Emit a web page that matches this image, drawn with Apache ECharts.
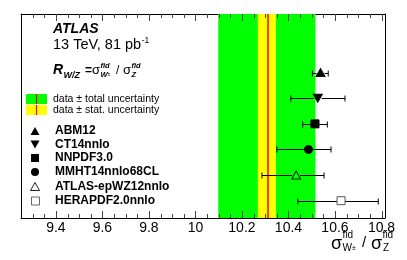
<!DOCTYPE html>
<html>
<head>
<meta charset="utf-8">
<script src="https://cdn.jsdelivr.net/npm/echarts@6/dist/echarts.min.js"></script>
<style>
html,body{margin:0;padding:0;background:#fff;}
#c{width:407px;height:260px;}
</style>
</head>
<body>
<div id="c"></div>
<script>
// ---- data ----
const pdfNames   = ['ABM12', 'CT14nnlo', 'NNPDF3.0', 'MMHT14nnlo68CL', 'ATLAS-epWZ12nnlo', 'HERAPDF2.0nnlo'];
const pdfCentral = [10.538, 10.526, 10.514, 10.486, 10.433, 10.626];
const pdfLow     = [10.503, 10.410, 10.461, 10.350, 10.286, 10.440];
const pdfHigh    = [10.571, 10.643, 10.567, 10.583, 10.553, 10.786];
const pdfRow     = [5, 4, 3, 2, 1, 0];
const dataValue  = 10.307;
const statUnc    = 0.039;
const totalUnc   = 0.209;
const tickLabels = [9.4, 9.6, 9.8, 10, 10.2, 10.4, 10.6, 10.8];
const minorTicks = [9.3, 9.35, 9.45, 9.5, 9.55, 9.65, 9.7, 9.75, 9.85, 9.9, 9.95, 10.05, 10.1, 10.15, 10.25, 10.3, 10.35, 10.45, 10.5, 10.55, 10.65, 10.7, 10.75];

const XMIN = 9.25, XMAX = 10.815;
const FONT = '"Liberation Sans", Arial, Helvetica, sans-serif';

const markerStyles = [
  {symbol: 'triangle', rotate: 0, fill: '#000', stroke: '#000', size: [9, 8]},
  {symbol: 'triangle', rotate: 180, fill: '#000', stroke: '#000', size: [9, 8]},
  {symbol: 'rect', rotate: 0, fill: '#000', stroke: '#000', size: [8, 8]},
  {symbol: 'circle', rotate: 0, fill: '#000', stroke: '#000', size: [8, 8]},
  {symbol: 'triangle', rotate: 0, fill: 'transparent', stroke: '#222', size: [9, 8]},
  {symbol: 'rect', rotate: 0, fill: '#fff', stroke: '#555', size: [8, 8]}
];

const chart = echarts.init(document.getElementById('c'), null, {renderer: 'canvas'});

const mctx = document.createElement('canvas').getContext('2d');
function tw(text, font) { mctx.font = font; return mctx.measureText(text).width; }

const series = [];
series.push({
  type: 'scatter', data: [], z: 1, silent: true,
  markArea: {silent: true, itemStyle: {color: '#00ff00', opacity: 1},
    data: [[{xAxis: dataValue - totalUnc}, {xAxis: dataValue + totalUnc}]]}
});
series.push({
  type: 'scatter', data: [], z: 2, silent: true,
  markArea: {silent: true, itemStyle: {color: '#ffff00', opacity: 1},
    data: [[{xAxis: dataValue - statUnc}, {xAxis: dataValue + statUnc}]]}
});
series.push({
  type: 'scatter', data: [], z: 3, silent: true,
  markLine: {silent: true, symbol: 'none', label: {show: false},
    lineStyle: {color: '#ff0000', width: 1.5, type: 'solid'},
    data: [{xAxis: dataValue}]}
});
// axis ticks (top and bottom, inward) drawn above the bands
const tickData = tickLabels.map(v => [v, 7]).concat(minorTicks.map(v => [v, 4]));
series.push({
  type: 'custom', z: 4, silent: true, clip: false,
  data: tickData,
  encode: {x: 0},
  renderItem: function (params, api) {
    const cs = params.coordSys;
    const x = Math.round(api.coord([api.value(0), 0])[0]) + 0.5;
    const len = api.value(1);
    const st = {stroke: '#444', lineWidth: 1};
    return {type: 'group', children: [
      {type: 'line', shape: {x1: x, y1: cs.y + cs.height, x2: x, y2: cs.y + cs.height - len}, style: st},
      {type: 'line', shape: {x1: x, y1: cs.y, x2: x, y2: cs.y + len}, style: st}
    ]};
  }
});
// error bars
series.push({
  type: 'custom', z: 5, silent: true,
  data: pdfNames.map((n, i) => [pdfLow[i], pdfHigh[i], pdfRow[i], pdfCentral[i]]),
  encode: {x: [0, 1], y: 2},
  renderItem: function (params, api) {
    const lo = api.coord([api.value(0), api.value(2)]);
    const hi = api.coord([api.value(1), api.value(2)]);
    const c = api.coord([api.value(3), api.value(2)]);
    const r = 4;
    const st = {stroke: '#000', lineWidth: 1};
    const y = Math.round(lo[1]) + 0.5;
    return {type: 'group', children: [
      {type: 'line', shape: {x1: lo[0], y1: y, x2: c[0] - r, y2: y}, style: st},
      {type: 'line', shape: {x1: c[0] + r, y1: y, x2: hi[0], y2: y}, style: st},
      {type: 'line', shape: {x1: lo[0], y1: y - 3, x2: lo[0], y2: y + 3}, style: st},
      {type: 'line', shape: {x1: hi[0], y1: y - 3, x2: hi[0], y2: y + 3}, style: st}
    ]};
  }
});
pdfNames.forEach((n, i) => {
  const m = markerStyles[i];
  series.push({
    type: 'scatter', name: n, z: 6, silent: true,
    symbol: m.symbol, symbolRotate: m.rotate, symbolSize: m.size,
    itemStyle: {color: m.fill, borderColor: m.stroke, borderWidth: 1, opacity: 1},
    data: [[pdfCentral[i], pdfRow[i]]]
  });
});

const g = [];
function txt(text, x, y, font, align) {
  g.push({type: 'text', silent: true, z: 100, style: {text: text, x: x, y: y, font: font, fill: '#000', align: align || 'left', verticalAlign: 'middle'}});
  return x + tw(text, font);
}
txt('ATLAS', 53, 29.5, 'italic bold 14px ' + FONT);
{
  const e = txt('13 TeV, 81 pb', 53, 45, '14.5px ' + FONT);
  txt('-1', e + 0.5, 40.5, '8.5px ' + FONT);
}
// R_W/Z formula
{
  const e = txt('R', 53, 70, 'italic bold 14px ' + FONT);
  txt('W/Z', e + 0.5, 75.5, 'italic bold 9px ' + FONT);
  txt('=', 85, 70.5, 'bold 12px ' + FONT);
  const s1 = txt('σ', 92, 70.5, '13px ' + FONT);
  txt('fid', s1 + 0.5, 66, 'italic bold 7.5px ' + FONT);
  const w = txt('W', s1 + 0.5, 75, 'italic bold 7.5px ' + FONT);
  txt('±', w, 75, '5px ' + FONT);
  txt('/', 116, 70.5, '12px ' + FONT);
  const s2 = txt('σ', 123, 70.5, '13px ' + FONT);
  txt('fid', s2 + 0.5, 66, 'italic bold 7.5px ' + FONT);
  txt('Z', s2 + 0.5, 75, 'italic bold 7.5px ' + FONT);
}

// band legend
g.push({type: 'rect', silent: true, shape: {x: 26, y: 94, width: 21, height: 10}, style: {fill: '#00ff00'}});
g.push({type: 'rect', silent: true, shape: {x: 26, y: 105, width: 21, height: 10}, style: {fill: '#ffff00'}});
g.push({type: 'line', silent: true, shape: {x1: 36.5, y1: 94, x2: 36.5, y2: 104}, style: {stroke: '#ff0000', lineWidth: 1.2}});
g.push({type: 'line', silent: true, shape: {x1: 36.5, y1: 105, x2: 36.5, y2: 115}, style: {stroke: '#ff0000', lineWidth: 1.2}});
txt('data ± total uncertainty', 53, 99, '10.5px ' + FONT);
txt('data ± stat. uncertainty', 53, 110, '10.5px ' + FONT);

// marker legend
const legY = [131, 144.5, 158, 172, 186.5, 200.5];
const lx = 35;
g.push({type: 'polygon', silent: true, shape: {points: [[lx, legY[0] - 4], [lx + 4.5, legY[0] + 4], [lx - 4.5, legY[0] + 4]]}, style: {fill: '#000'}});
g.push({type: 'polygon', silent: true, shape: {points: [[lx, legY[1] + 4], [lx + 4.5, legY[1] - 4], [lx - 4.5, legY[1] - 4]]}, style: {fill: '#000'}});
g.push({type: 'rect', silent: true, shape: {x: lx - 4, y: legY[2] - 4, width: 8, height: 8}, style: {fill: '#000'}});
g.push({type: 'circle', silent: true, shape: {cx: lx, cy: legY[3], r: 4}, style: {fill: '#000'}});
g.push({type: 'polygon', silent: true, shape: {points: [[lx, legY[4] - 4], [lx + 4.5, legY[4] + 4], [lx - 4.5, legY[4] + 4]]}, style: {fill: 'none', stroke: '#222', lineWidth: 1}});
g.push({type: 'rect', silent: true, shape: {x: lx - 3.5, y: legY[5] - 3.5, width: 8, height: 8}, style: {fill: '#fff', stroke: '#666', lineWidth: 1}});
pdfNames.forEach((n, i) => txt(n, 55, legY[i], 'bold 12px ' + FONT));

// axis title
{
  const s1 = txt('σ', 331, 244, '18px ' + FONT);
  txt('fid', s1 + 0.5, 235.5, '10px ' + FONT);
  const w = txt('W', s1 + 0.5, 248, '10px ' + FONT);
  txt('±', w, 248, '7px ' + FONT);
  txt('/', 362, 243, '15px ' + FONT);
  const s2 = txt('σ', 371, 244, '18px ' + FONT);
  txt('fid', s2 + 0.5, 235.5, '10px ' + FONT);
  txt('Z', s2 + 1, 248, '10px ' + FONT);
}

const frameLine = {show: true, onZero: false, lineStyle: {color: '#000', width: 1}};
chart.setOption({
  animation: false,
  backgroundColor: '#fff',
  grid: {left: 21, right: 22, top: 14, bottom: 42, containLabel: false},
  xAxis: [
    {type: 'value', position: 'bottom', min: XMIN, max: XMAX, axisLine: frameLine, axisTick: {show: false}, splitLine: {show: false},
      axisLabel: {show: true, customValues: tickLabels, margin: 3, fontFamily: FONT, fontSize: 14, color: '#000', formatter: v => String(v)}},
    {type: 'value', position: 'top', min: XMIN, max: XMAX, axisLine: frameLine, axisTick: {show: false}, axisLabel: {show: false}, splitLine: {show: false}}
  ],
  yAxis: [
    {type: 'value', position: 'left', min: -0.676, max: 7.29, axisLine: frameLine, axisTick: {show: false}, axisLabel: {show: false}, splitLine: {show: false}},
    {type: 'value', position: 'right', min: -0.676, max: 7.29, axisLine: frameLine, axisTick: {show: false}, axisLabel: {show: false}, splitLine: {show: false}}
  ],
  series: series,
  graphic: g
});
</script>
</body>
</html>
